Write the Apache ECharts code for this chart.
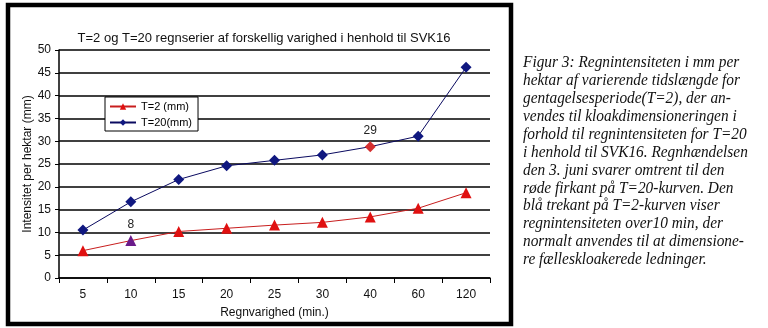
<!DOCTYPE html>
<html><head><meta charset="utf-8">
<script src="https://cdn.jsdelivr.net/npm/echarts@6/dist/echarts.min.js"></script>
<style>html,body{margin:0;padding:0;background:#fff}#c{width:768px;height:328px}</style>
</head><body><div id="c"></div>
<script>
const categories = ['5','10','15','20','25','30','40','60','120'];
const t2Values = [6.0, 8.2, 10.2, 10.9, 11.6, 12.2, 13.4, 15.3, 18.7];
const t20Values = [10.5, 16.7, 21.6, 24.6, 25.8, 27.0, 28.8, 31.1, 46.2];
const yTicks = [0, 5, 10, 15, 20, 25, 30, 35, 40, 45, 50];
const captionLines = [
 'Figur 3: Regnintensiteten i mm per',
 'hektar af varierende tidslængde for',
 'gentagelsesperiode(T=2), der an-',
 'vendes til kloakdimensioneringen i',
 'forhold til regnintensiteten for T=20',
 'i henhold til SVK16. Regnhændelsen',
 'den 3. juni svarer omtrent til den',
 'røde firkant på T=20-kurven. Den',
 'blå trekant på T=2-kurven viser',
 'regnintensiteten over10 min, der',
 'normalt anvendes til at dimensione-',
 're fælleskloakerede ledninger.'
];
const sansFont = '"Liberation Sans", Arial, sans-serif';
const chart = echarts.init(document.getElementById('c'));
const t2Data = t2Values.map((v,i)=> i===1 ? {value:v, itemStyle:{color:'#6a1a8a'}, label:{show:true, formatter:'8'}} : v);
const t20Data = t20Values.map((v,i)=> i===6 ? {value:v, itemStyle:{color:'#d43030'}, label:{show:true, formatter:'29'}} : v);
const graphics = [
 {type:'rect', shape:{x:8,y:5,width:503,height:319}, style:{fill:'none', stroke:'#000', lineWidth:4.5}, z:-1}
];
captionLines.forEach((t,i)=>{
  graphics.push({type:'text', x:523, y:63 + i*17.9, scaleX:0.96, originX:0, originY:0,
    style:{text:t, font:'italic 16px "Liberation Serif", "Times New Roman", serif', fill:'#111', verticalAlign:'middle'}});
});
chart.setOption({
  backgroundColor:'#fff',
  animation:false,
  title:{text:'T=2 og T=20 regnserier af forskellig varighed i henhold til SVK16', left:259, textAlign:'center', top:27, textStyle:{fontFamily:sansFont, fontSize:13, fontWeight:'normal', color:'#111'}},
  legend:{
    left:105, top:97, orient:'vertical', itemGap:5, itemWidth:26, itemHeight:8,
    backgroundColor:'#fff', borderColor:'#000', borderWidth:1, padding:[4,6,3,4],
    textStyle:{fontFamily:sansFont, fontSize:11, color:'#000'},
    data:[{name:'T=2 (mm)'},{name:'T=20(mm)'}]
  },
  grid:{left:59, right:278, top:50, bottom:50},
  xAxis:{
    type:'category', data:categories, boundaryGap:true,
    name:'Regnvarighed (min.)', nameLocation:'middle', nameGap:29, nameMoveOverlap:false,
    nameTextStyle:{fontFamily:sansFont, fontSize:12, color:'#111'},
    axisLine:{lineStyle:{color:'#000', width:1.5}},
    axisTick:{show:true, alignWithLabel:false, length:5, lineStyle:{color:'#000'}},
    axisLabel:{fontFamily:sansFont, fontSize:12, color:'#111', margin:11}
  },
  yAxis:{
    type:'value', min:0, max:50, interval:5,
    name:'Intensitet per hektar (mm)', nameLocation:'middle', nameGap:25, nameMoveOverlap:false,
    nameTextStyle:{fontFamily:sansFont, fontSize:12, color:'#111'},
    axisLine:{show:true, lineStyle:{color:'#000', width:1.5}},
    axisTick:{show:true, length:4, lineStyle:{color:'#000'}},
    axisLabel:{fontFamily:sansFont, fontSize:12, color:'#111', margin:8, formatter:v=> yTicks.includes(v) ? String(v) : ''},
    splitLine:{show:true, lineStyle:{color:'#000', width:1.5}}
  },
  series:[
    {name:'T=2 (mm)', type:'line', data:t2Data, symbol:'triangle', symbolSize:11,
     lineStyle:{color:'#c81e1e', width:1}, itemStyle:{color:'#e01010'},
     label:{show:false, position:'top', distance:4, fontFamily:sansFont, fontSize:12, color:'#222'}},
    {name:'T=20(mm)', type:'line', data:t20Data, symbol:'diamond', symbolSize:11,
     lineStyle:{color:'#0a0a60', width:1}, itemStyle:{color:'#101880'},
     label:{show:false, position:'top', distance:4, fontFamily:sansFont, fontSize:12, color:'#222'}}
  ],
  graphic:graphics
});
</script></body></html>
